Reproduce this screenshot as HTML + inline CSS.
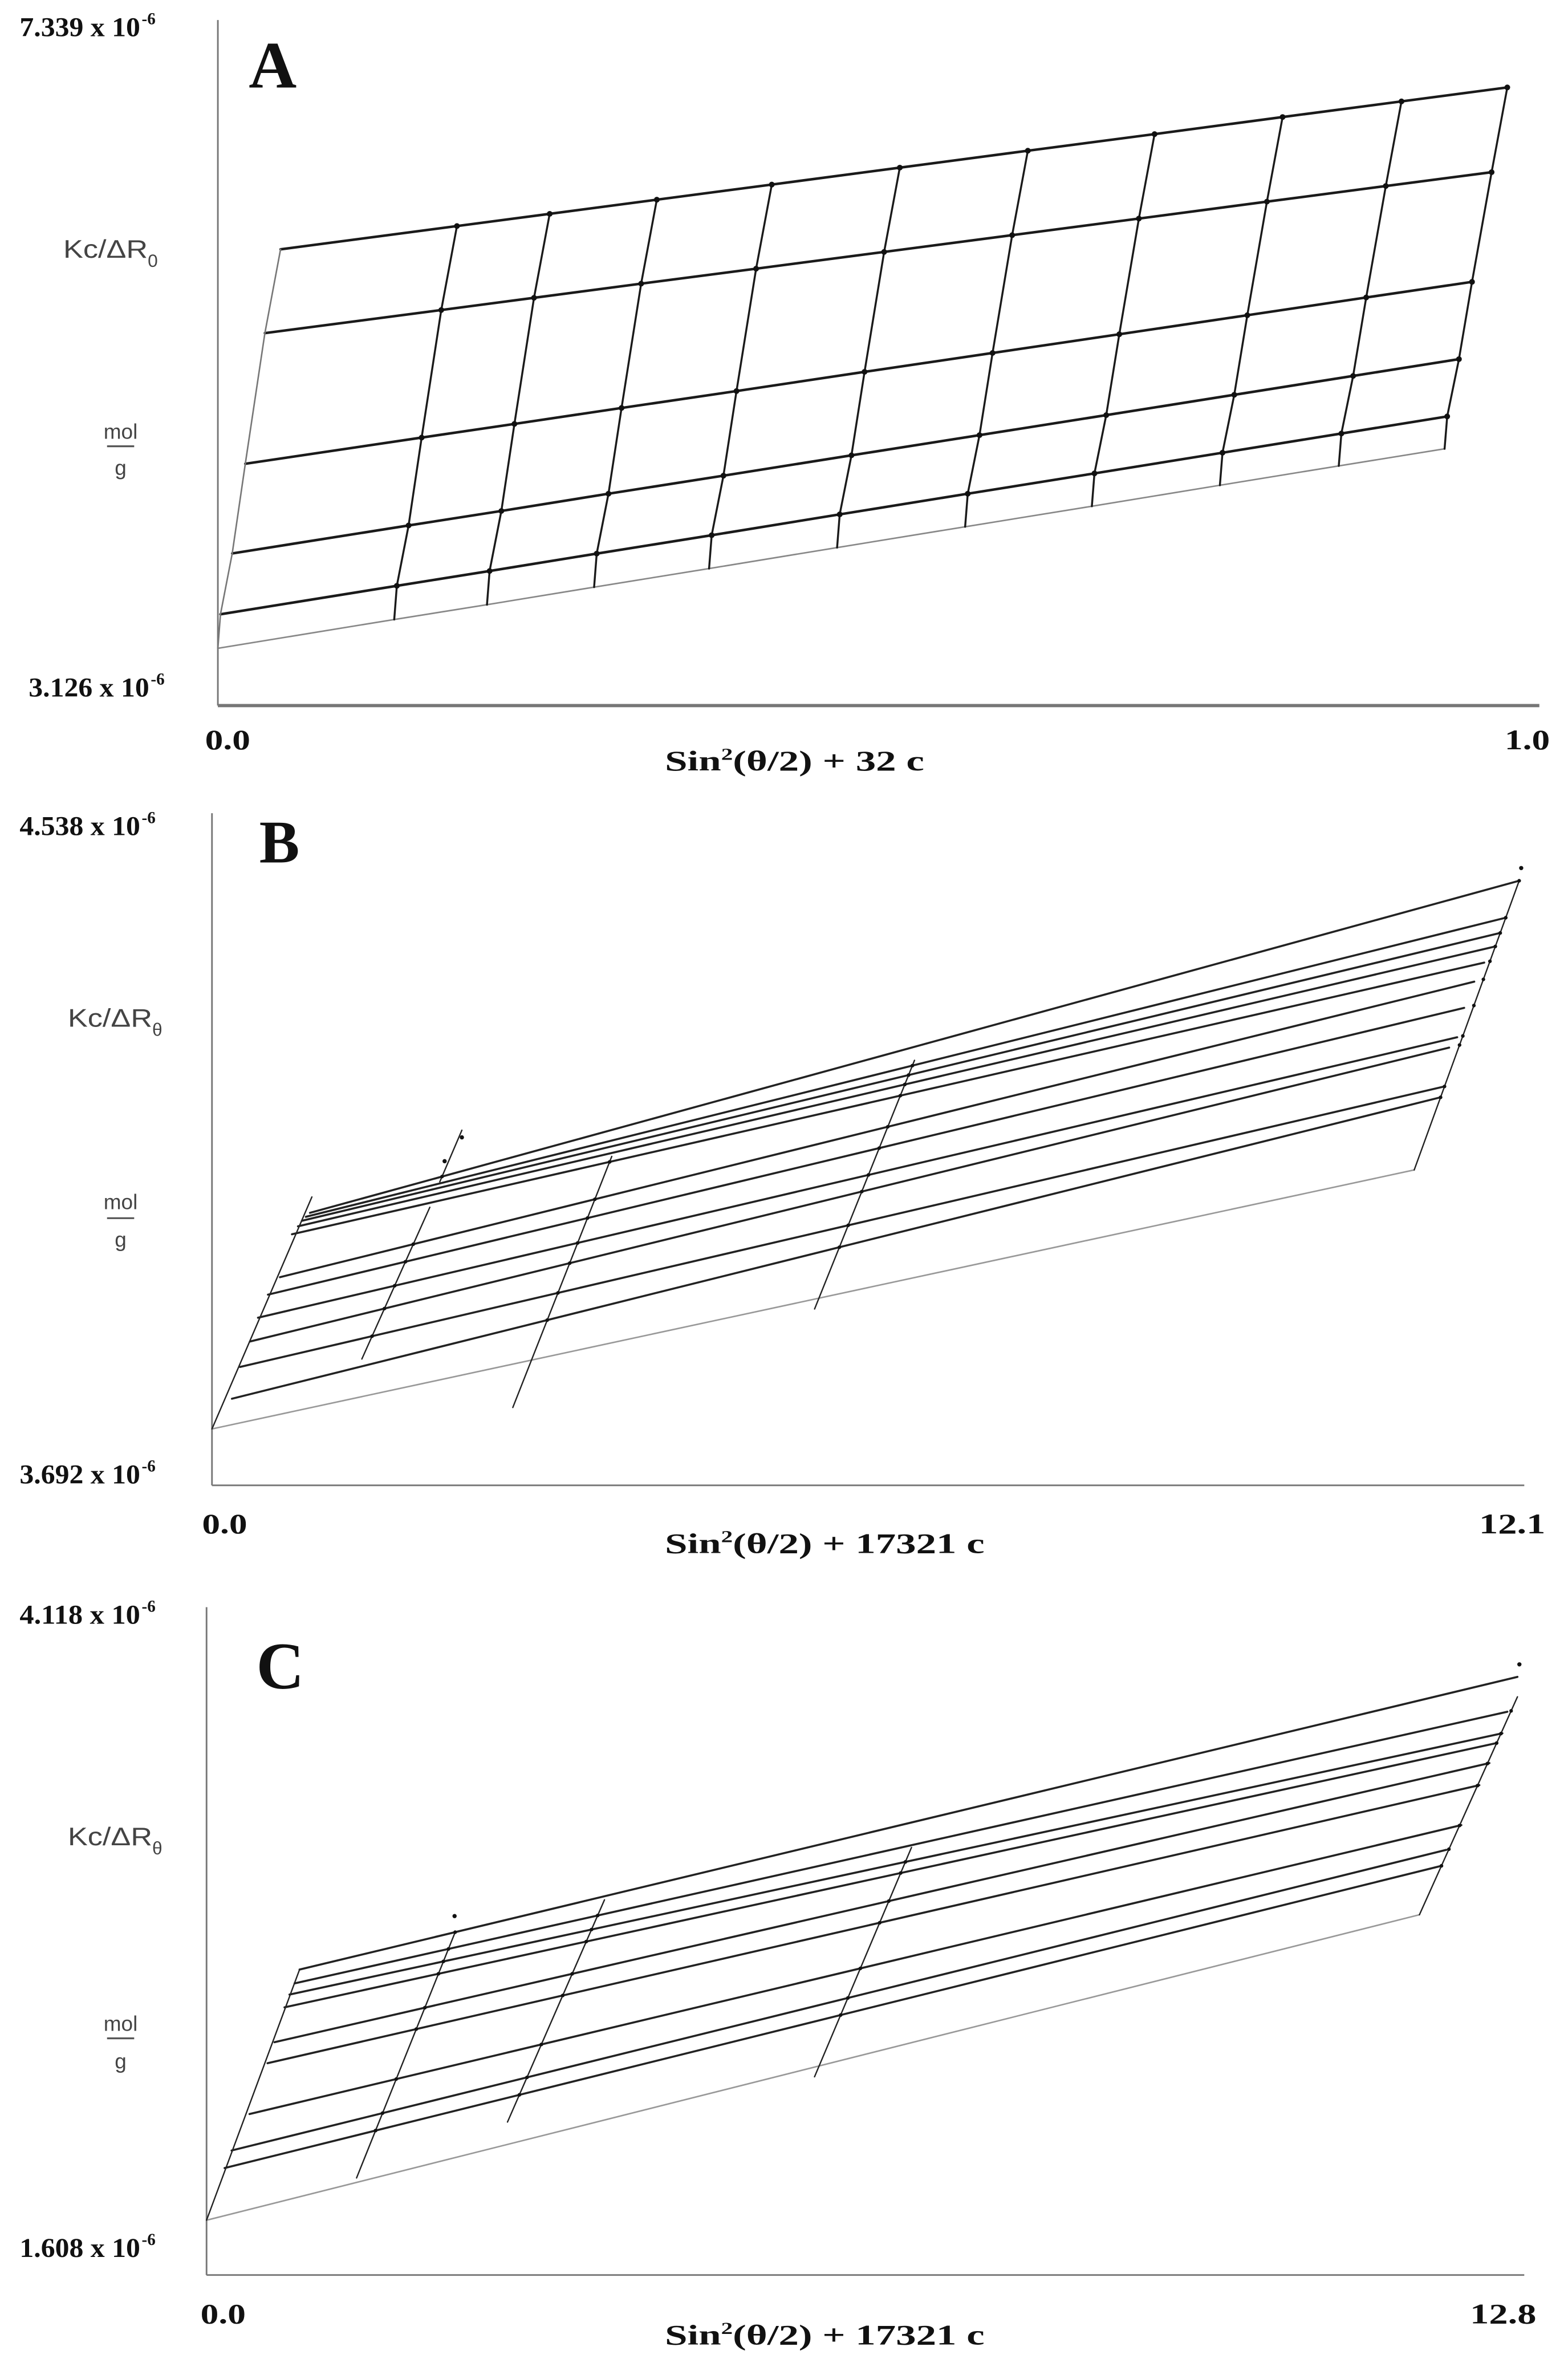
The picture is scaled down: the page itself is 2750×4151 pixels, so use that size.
<!DOCTYPE html>
<html>
<head>
<meta charset="utf-8">
<style>
html,body{margin:0;padding:0;background:#fff;}
svg{display:block;}
.num{font-family:"Liberation Serif",serif;font-weight:bold;fill:#111;}
.sans{font-family:"Liberation Sans",sans-serif;fill:#444;}
</style>
</head>
<body>
<svg id="chart" xmlns="http://www.w3.org/2000/svg" width="2750" height="4151" viewBox="0 0 1040 1570" preserveAspectRatio="none">
<rect x="0" y="0" width="1040" height="1570" fill="#fff"/>

<!-- Panel A labels -->
<g>
<text class="num" x="13" y="24" font-size="18" textLength="80" lengthAdjust="spacingAndGlyphs">7.339 x 10</text>
<text class="num" x="94" y="16" font-size="11">-6</text>
<text class="num" x="165" y="58" font-size="44">A</text>
<text class="sans" x="42" y="171" font-size="17" textLength="56" lengthAdjust="spacingAndGlyphs">Kc/ΔR</text>
<text class="sans" x="98" y="177" font-size="12">0</text>
<text class="sans" x="80" y="291" font-size="14" text-anchor="middle">mol</text>
<line x1="71" y1="296" x2="89" y2="296" stroke="#555" stroke-width="1.2"/>
<text class="sans" x="80" y="315" font-size="14" text-anchor="middle">g</text>
<text class="num" x="19" y="462" font-size="18" textLength="80" lengthAdjust="spacingAndGlyphs">3.126 x 10</text>
<text class="num" x="100" y="454" font-size="11">-6</text>
<text class="num" x="136" y="497" font-size="19" textLength="30" lengthAdjust="spacingAndGlyphs">0.0</text>
<text class="num" x="998" y="497" font-size="19" textLength="30" lengthAdjust="spacingAndGlyphs">1.0</text>
<text class="num" x="441" y="511" font-size="19" textLength="172" lengthAdjust="spacingAndGlyphs">Sin<tspan font-size="11" dy="-7">2</tspan><tspan dy="7">(θ/2) + 32 c</tspan></text>
</g>

<!-- Panel B labels -->
<g>
<text class="num" x="13" y="554" font-size="18" textLength="80" lengthAdjust="spacingAndGlyphs">4.538 x 10</text>
<text class="num" x="94" y="546" font-size="11">-6</text>
<text class="num" x="172" y="572" font-size="40">B</text>
<text class="sans" x="45" y="681" font-size="17" textLength="56" lengthAdjust="spacingAndGlyphs">Kc/ΔR</text>
<text class="sans" x="101" y="687" font-size="12">θ</text>
<text class="sans" x="80" y="802" font-size="14" text-anchor="middle">mol</text>
<line x1="71" y1="808" x2="89" y2="808" stroke="#555" stroke-width="1.2"/>
<text class="num" x="13" y="984" font-size="18" textLength="80" lengthAdjust="spacingAndGlyphs">3.692 x 10</text>
<text class="num" x="94" y="976" font-size="11">-6</text>
<text class="sans" x="80" y="827" font-size="14" text-anchor="middle">g</text>
<text class="num" x="134" y="1017" font-size="19" textLength="30" lengthAdjust="spacingAndGlyphs">0.0</text>
<text class="num" x="981" y="1017" font-size="19" textLength="44" lengthAdjust="spacingAndGlyphs">12.1</text>
<text class="num" x="441" y="1030" font-size="19" textLength="212" lengthAdjust="spacingAndGlyphs">Sin<tspan font-size="11" dy="-7">2</tspan><tspan dy="7">(θ/2) + 17321 c</tspan></text>
</g>

<!-- Panel C labels -->
<g>
<text class="num" x="13" y="1077" font-size="18" textLength="80" lengthAdjust="spacingAndGlyphs">4.118 x 10</text>
<text class="num" x="94" y="1069" font-size="11">-6</text>
<text class="num" x="170" y="1120" font-size="44">C</text>
<text class="sans" x="45" y="1224" font-size="17" textLength="56" lengthAdjust="spacingAndGlyphs">Kc/ΔR</text>
<text class="sans" x="101" y="1230" font-size="12">θ</text>
<text class="sans" x="80" y="1347" font-size="14" text-anchor="middle">mol</text>
<line x1="71" y1="1352" x2="89" y2="1352" stroke="#555" stroke-width="1.2"/>
<text class="sans" x="80" y="1372" font-size="14" text-anchor="middle">g</text>
<text class="num" x="13" y="1497" font-size="18" textLength="80" lengthAdjust="spacingAndGlyphs">1.608 x 10</text>
<text class="num" x="94" y="1489" font-size="11">-6</text>
<text class="num" x="133" y="1541" font-size="19" textLength="30" lengthAdjust="spacingAndGlyphs">0.0</text>
<text class="num" x="975" y="1541" font-size="19" textLength="44" lengthAdjust="spacingAndGlyphs">12.8</text>
<text class="num" x="441" y="1555" font-size="19" textLength="212" lengthAdjust="spacingAndGlyphs">Sin<tspan font-size="11" dy="-7">2</tspan><tspan dy="7">(θ/2) + 17321 c</tspan></text>
</g>
</svg>

<script>
// ---------- Panel A data (Zimm grid) ----------
const aAngles = [0, 0.135, 0.206, 0.288, 0.376, 0.474, 0.572, 0.669, 0.767, 0.858, 0.939];
const aConcShift = [0, 0.002, 0.011, 0.021, 0.036, 0.048];
const aKcR0 = [3.478, 3.655, 3.746, 3.854, 3.968, 4.097, 4.225, 4.351, 4.480, 4.599, 4.704];
const aKcR1 = [3.687, 3.862, 3.953, 4.060, 4.173, 4.301, 4.428, 4.553, 4.680, 4.798, 4.903];
const aKcR2 = [4.061, 4.233, 4.322, 4.428, 4.539, 4.664, 4.788, 4.911, 5.036, 5.152, 5.255];
const aKcR3 = [4.612, 4.773, 4.857, 4.955, 5.059, 5.177, 5.293, 5.408, 5.525, 5.634, 5.730];
const aKcR4 = [5.415, 5.557, 5.632, 5.719, 5.811, 5.914, 6.017, 6.119, 6.223, 6.319, 6.404];
const aKcR5 = [5.930, 6.073, 6.148, 6.235, 6.328, 6.432, 6.536, 6.638, 6.743, 6.839, 6.925];
const aRows = [aKcR0, aKcR1, aKcR2, aKcR3, aKcR4, aKcR5];

// ---------- Panel B data ----------
const bConcStartX = [0.914, 0.876, 0.839, 0.802, 0.746, 0.634, 0.522, 0.429, 0.354, 0.261, 0.186];
const bConcStartY = [4.035, 4.030, 4.025, 4.018, 4.008, 3.954, 3.932, 3.903, 3.873, 3.841, 3.801];
const bConcEndX = [12.193, 12.053, 12.007, 11.960, 11.867, 11.774, 11.680, 11.615, 11.540, 11.494, 11.447];
const bConcEndY = [4.453, 4.406, 4.387, 4.370, 4.350, 4.326, 4.293, 4.256, 4.243, 4.194, 4.180];
const bZeroConc = [0, 3.763, 11.214, 4.089];
const bAngleTopX = [0.932, 2.331, 2.032, 3.729, 6.553, 12.193];
const bAngleTopY = [4.055, 4.139, 4.042, 4.106, 4.227, 4.453];
const bAngleBotX = [0, 2.125, 1.398, 2.806, 5.621, 11.214];
const bAngleBotY = [3.763, 4.074, 3.851, 3.790, 3.914, 4.089];
const bExtraPtX = [12.212, 2.331, 2.170];
const bExtraPtY = [4.469, 4.130, 4.100];

// ---------- Panel C data ----------
const cConcStartX = [0.914, 0.865, 0.815, 0.766, 0.668, 0.599, 0.422, 0.246, 0.177];
const cConcStartY = [2.756, 2.704, 2.662, 2.614, 2.483, 2.404, 2.213, 2.076, 2.010];
const cConcEndX = [12.881, 12.782, 12.733, 12.674, 12.606, 12.507, 12.330, 12.183, 12.114];
const cConcEndY = [3.856, 3.725, 3.644, 3.607, 3.532, 3.449, 3.299, 3.206, 3.144];
const cZeroConc = [0, 1.814, 11.918, 2.962];
const cAngleTopX = [0.914, 2.437, 3.910, 6.927, 12.881];
const cAngleTopY = [2.756, 2.891, 3.018, 3.215, 3.781];
const cAngleBotX = [0, 1.474, 2.957, 5.974, 11.918];
const cAngleBotY = [1.814, 1.973, 2.183, 2.353, 2.962];
const cExtraPtX = [2.437, 12.900];
const cExtraPtY = [2.957, 3.903];

const svg = document.getElementById('chart');
const NS = 'http://www.w3.org/2000/svg';

function makeScale(d0, d1, p0, p1) { return v => p0 + (v - d0) / (d1 - d0) * (p1 - p0); }

function el(tag) { const e = document.createElementNS(NS, tag); svg.appendChild(e); return e; }

function drawAxes(prefix, x0, yTop, yBot, xRight, w) {
  const ya = el('line');
  ya.setAttribute('x1', x0); ya.setAttribute('y1', yTop); ya.setAttribute('x2', x0); ya.setAttribute('y2', yBot);
  ya.setAttribute('stroke', '#777'); ya.setAttribute('stroke-width', 1.1);
  
  
  const xa = el('line');
  xa.setAttribute('x1', x0); xa.setAttribute('y1', yBot); xa.setAttribute('x2', xRight); xa.setAttribute('y2', yBot);
  xa.setAttribute('stroke', '#777'); xa.setAttribute('stroke-width', w);
  
  
}

function drawPoly(pts, color, width, name) {
  const p = el('polyline');
  p.setAttribute('points', pts.map(q => q[0].toFixed(2) + ',' + q[1].toFixed(2)).join(' '));
  p.setAttribute('fill', 'none');
  p.setAttribute('stroke', color);
  p.setAttribute('stroke-width', width);
  p.setAttribute('stroke-linecap', 'round');
  
  
}

function drawDot(x, y, r, name) {
  const c = el('circle');
  c.setAttribute('cx', x.toFixed(2)); c.setAttribute('cy', y.toFixed(2)); c.setAttribute('r', r);
  c.setAttribute('fill', '#111');
  
  
}

// ---------- Panel A ----------
(function () {
  const xs = makeScale(0, 1.0, 144.5, 1011);
  const ys = makeScale(3.126, 7.339, 468, 13.3);
  drawAxes('a', 144.5, 13.3, 468, 1021, 2.2);
  for (let j = 0; j < aRows.length; j++) {
    const pts = aAngles.map((s, i) => [xs(s + aConcShift[j]), ys(aRows[j][i])]);
    drawPoly(pts, j === 0 ? '#888' : '#1a1a1a', j === 0 ? 1.0 : 1.7, j === 0 ? 'a-zero-concentration-line' : 'a-concentration-line-' + j);
  }
  for (let i = 0; i < aAngles.length; i++) {
    const pts = aRows.map((row, j) => [xs(aAngles[i] + aConcShift[j]), ys(row[i])]);
    drawPoly(pts, i === 0 ? '#777' : '#1a1a1a', i === 0 ? 1.0 : 1.3, i === 0 ? 'a-zero-angle-line' : 'a-angle-line-' + i);
  }
  for (let j = 1; j < aRows.length; j++) {
    for (let i = 1; i < aAngles.length; i++) {
      drawDot(xs(aAngles[i] + aConcShift[j]), ys(aRows[j][i]), 1.9, 'a-data-point');
    }
  }
})();

function segIntersect(p1, p2, p3, p4) {
  const d = (p2[0]-p1[0])*(p4[1]-p3[1]) - (p2[1]-p1[1])*(p4[0]-p3[0]);
  if (Math.abs(d) < 1e-9) return null;
  const t = ((p3[0]-p1[0])*(p4[1]-p3[1]) - (p3[1]-p1[1])*(p4[0]-p3[0])) / d;
  const u = ((p3[0]-p1[0])*(p2[1]-p1[1]) - (p3[1]-p1[1])*(p2[0]-p1[0])) / d;
  if (t < -0.01 || t > 1.01 || u < -0.01 || u > 1.01) return null;
  return [p1[0] + t*(p2[0]-p1[0]), p1[1] + t*(p2[1]-p1[1])];
}

function drawLinePanel(prefix, xs, ys, sx, sy, ex, ey, zero, atx, aty, abx, aby, px, py) {
  drawPoly([[xs(zero[0]), ys(zero[1])], [xs(zero[2]), ys(zero[3])]], '#999', 1.0, prefix + '-zero-concentration-line');
  const conc = [];
  for (let j = 0; j < sx.length; j++) {
    const a = [xs(sx[j]), ys(sy[j])], b = [xs(ex[j]), ys(ey[j])];
    conc.push([a, b]);
    drawPoly([a, b], '#222', 1.35, prefix + '-concentration-line-' + (j + 1));
  }
  for (let i = 0; i < atx.length; i++) {
    const a = [xs(atx[i]), ys(aty[i])], b = [xs(abx[i]), ys(aby[i])];
    drawPoly([a, b], '#222', 0.9, i === 0 ? prefix + '-zero-angle-line' : prefix + '-angle-line-' + i);
    if (i === 0) continue;
    for (const c of conc) {
      const q = segIntersect(a, b, c[0], c[1]);
      if (q) drawDot(q[0], q[1], 1.2, prefix + '-data-point');
    }
  }
  for (let k = 0; k < px.length; k++) {
    drawDot(xs(px[k]), ys(py[k]), 1.4, prefix + '-extra-point');
  }
}

// ---------- Panel B ----------
(function () {
  const xs = makeScale(0, 12.1, 140.6, 1001);
  const ys = makeScale(3.692, 4.538, 985.2, 539.4);
  drawAxes('b', 140.6, 539.4, 985.2, 1011, 1.1);
  drawLinePanel('b', xs, ys, bConcStartX, bConcStartY, bConcEndX, bConcEndY, bZeroConc,
    bAngleTopX, bAngleTopY, bAngleBotX, bAngleBotY, bExtraPtX, bExtraPtY);
})();

// ---------- Panel C ----------
(function () {
  const xs = makeScale(0, 12.8, 137, 1001);
  const ys = makeScale(1.608, 4.118, 1509, 1066);
  drawAxes('c', 137, 1066, 1509, 1011, 1.1);
  drawLinePanel('c', xs, ys, cConcStartX, cConcStartY, cConcEndX, cConcEndY, cZeroConc,
    cAngleTopX, cAngleTopY, cAngleBotX, cAngleBotY, cExtraPtX, cExtraPtY);
})();
</script>
</body>
</html>
